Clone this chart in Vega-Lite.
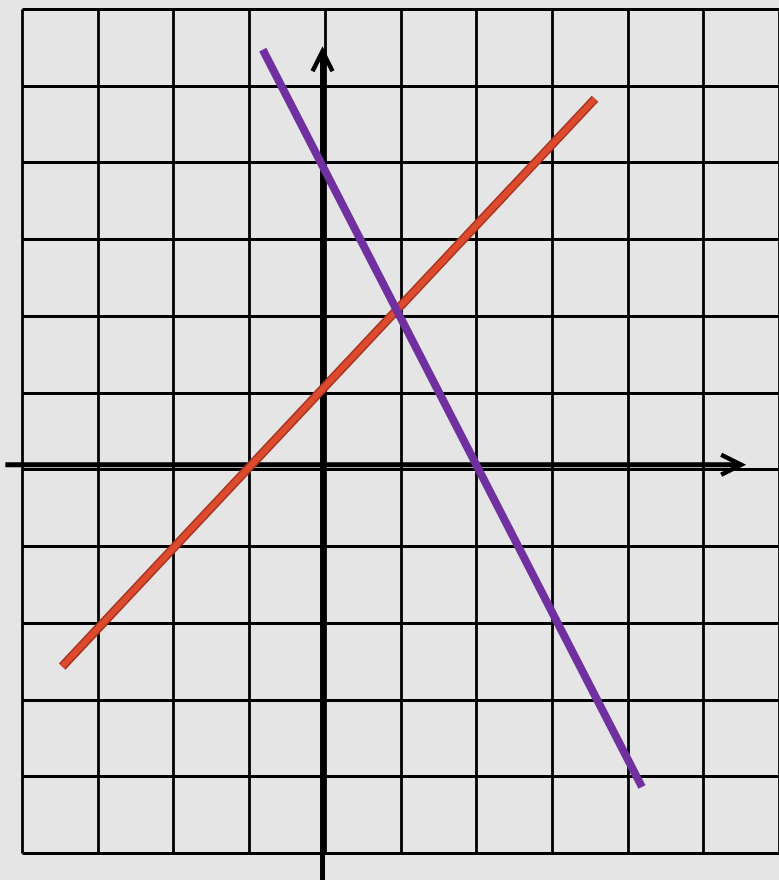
{
  "$schema": "https://vega.github.io/schema/vega-lite/v6.json",
  "width": 757,
  "height": 844,
  "autosize": {"type": "none"},
  "padding": {"left": 22, "top": 9, "right": 0, "bottom": 27},
  "background": "#e5e5e5",
  "config": {"view": {"stroke": null}},
  "datasets": {
    "axisLines": [
      {"name": "xaxis", "x": -4.22, "y": 0.06},
      {"name": "xaxis", "x": 5.48, "y": 0.06},
      {"name": "yaxis", "x": -0.03, "y": -5.4},
      {"name": "yaxis", "x": -0.03, "y": 5.43}
    ],
    "red": [
      {"x": -3.47, "y": -2.57},
      {"x": 3.57, "y": 4.83}
    ],
    "purple": [
      {"x": -0.82, "y": 5.47},
      {"x": 4.19, "y": -4.14}
    ],
    "arrowX": [{"x": 5.5, "y": 0.06}],
    "arrowY": [{"x": -0.03, "y": 5.45}]
  },
  "encoding": {
    "x": {
      "field": "x",
      "type": "quantitative",
      "scale": {"domain": [-4, 6], "nice": false, "zero": false},
      "axis": {
        "values": [-4, -3, -2, -1, 0, 1, 2, 3, 4, 5, 6],
        "grid": true,
        "labels": false,
        "ticks": false,
        "domain": false,
        "title": null,
        "gridColor": "#000000",
        "gridWidth": 2.8,
        "gridOpacity": 1
      }
    },
    "y": {
      "field": "y",
      "type": "quantitative",
      "scale": {"domain": [-5, 6], "nice": false, "zero": false},
      "axis": {
        "values": [-5, -4, -3, -2, -1, 0, 1, 2, 3, 4, 5, 6],
        "grid": true,
        "labels": false,
        "ticks": false,
        "domain": false,
        "title": null,
        "gridColor": "#000000",
        "gridWidth": 2.8,
        "gridOpacity": 1
      }
    }
  },
  "layer": [
    {
      "data": {"name": "axisLines"},
      "mark": {"type": "line", "color": "#000000", "strokeWidth": 5, "strokeCap": "butt"},
      "encoding": {"detail": {"field": "name", "type": "nominal"}}
    },
    {
      "data": {"name": "red"},
      "mark": {"type": "line", "color": "#a8321f", "strokeWidth": 9, "strokeCap": "butt"},
      "encoding": {}
    },
    {
      "data": {"name": "red"},
      "mark": {"type": "line", "color": "#dc4b2e", "strokeWidth": 6, "strokeCap": "butt"},
      "encoding": {}
    },
    {
      "data": {"name": "purple"},
      "mark": {"type": "line", "color": "#7030a0", "strokeWidth": 8, "strokeCap": "butt"},
      "encoding": {}
    },
    {
      "data": {"name": "arrowX"},
      "mark": {
        "type": "point",
        "shape": "M -2 -1 L 0 0 L -2 1",
        "size": 400,
        "filled": false,
        "stroke": "#000000",
        "strokeWidth": 4.5,
        "opacity": 1,
        "strokeJoin": "miter"
      }
    },
    {
      "data": {"name": "arrowY"},
      "mark": {
        "type": "point",
        "shape": "M -1 2 L 0 0 L 1 2",
        "size": 400,
        "filled": false,
        "stroke": "#000000",
        "strokeWidth": 4.5,
        "opacity": 1,
        "strokeJoin": "miter"
      }
    }
  ]
}
